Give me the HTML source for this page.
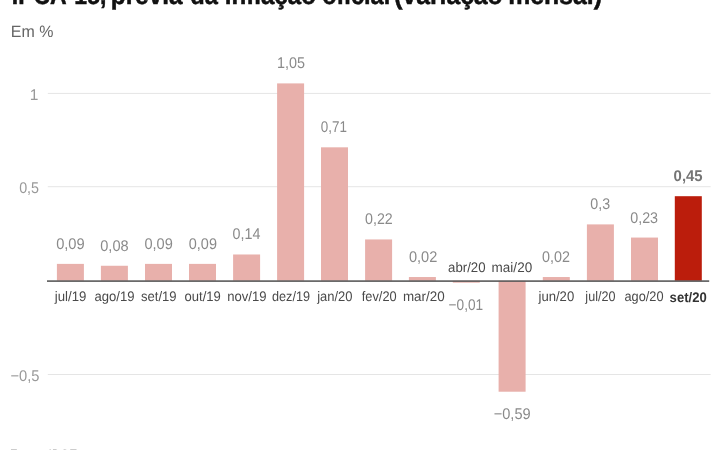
<!DOCTYPE html>
<html><head><meta charset="utf-8">
<style>
html,body{margin:0;padding:0;background:#fff;width:720px;height:450px;overflow:hidden}
svg{position:absolute;left:0;top:0;will-change:transform}
text{font-family:"Liberation Sans",Arial,sans-serif;text-rendering:geometricPrecision}
.title{font-size:26px;font-weight:bold;fill:#111;stroke:#111;stroke-width:0.5px}
.unit{font-size:16.5px;fill:#666}
.tk{font-size:15.5px;fill:#999}
.vl{font-size:15.5px;fill:#8a8a8a}
.ml{font-size:13.8px;fill:#4a4a4a}
.vl.hl{font-weight:bold;fill:#757575}
.ml.hl{font-weight:bold;fill:#333}
.src{font-size:12px;fill:#3a3a3a}
</style></head><body>
<svg width="720" height="450" viewBox="0 0 720 450">
<text class="title" x="11.76" y="3.8" textLength="94.60" lengthAdjust="spacingAndGlyphs">IPCA-15,</text>
<text class="title" x="110.78" y="3.8" textLength="71.77" lengthAdjust="spacingAndGlyphs">prévia</text>
<text class="title" x="190.26" y="3.8" textLength="27.59" lengthAdjust="spacingAndGlyphs">da</text>
<text class="title" x="224.69" y="3.8" textLength="91.30" lengthAdjust="spacingAndGlyphs">inflação</text>
<text class="title" x="322.16" y="3.8" textLength="68.03" lengthAdjust="spacingAndGlyphs">oficial</text>
<text class="title" x="394.24" y="3.8" textLength="108.47" lengthAdjust="spacingAndGlyphs">(variação</text>
<text class="title" x="508.15" y="3.8" textLength="93.75" lengthAdjust="spacingAndGlyphs">mensal)</text>
<text class="unit" x="10.84" y="37" textLength="42.61" lengthAdjust="spacingAndGlyphs">Em %</text>
<rect x="47.8" y="92.9" width="662.8" height="1" fill="#e5e5e5"/>
<rect x="47.8" y="186.2" width="662.8" height="1" fill="#e5e5e5"/>
<rect x="47.8" y="374.0" width="662.8" height="1" fill="#e5e5e5"/>
<rect x="56.90" y="263.88" width="27.0" height="16.92" fill="#e8b0ab"/>
<rect x="100.90" y="265.76" width="27.0" height="15.04" fill="#e8b0ab"/>
<rect x="145.00" y="263.88" width="27.0" height="16.92" fill="#e8b0ab"/>
<rect x="189.00" y="263.88" width="27.0" height="16.92" fill="#e8b0ab"/>
<rect x="233.10" y="254.48" width="27.0" height="26.32" fill="#e8b0ab"/>
<rect x="277.10" y="83.40" width="27.0" height="197.40" fill="#e8b0ab"/>
<rect x="321.00" y="147.32" width="27.0" height="133.48" fill="#e8b0ab"/>
<rect x="365.10" y="239.44" width="27.0" height="41.36" fill="#e8b0ab"/>
<rect x="408.90" y="277.04" width="27.0" height="3.76" fill="#e8b0ab"/>
<rect x="452.80" y="280.80" width="27.0" height="1.88" fill="#e8b0ab"/>
<rect x="498.60" y="280.80" width="27.0" height="110.92" fill="#e8b0ab"/>
<rect x="542.80" y="277.04" width="27.0" height="3.76" fill="#e8b0ab"/>
<rect x="586.90" y="224.40" width="27.0" height="56.40" fill="#e8b0ab"/>
<rect x="631.00" y="237.56" width="27.0" height="43.24" fill="#e8b0ab"/>
<rect x="674.80" y="196.20" width="27.0" height="84.60" fill="#bb1d0c"/>
<rect x="47" y="280.3" width="662.2" height="1.6" fill="#5a5a5a"/>
<text class="tk" x="38.30" y="99.8" text-anchor="end">1</text>
<text class="tk" x="19.15" y="192.8" textLength="19.93" lengthAdjust="spacingAndGlyphs">0,5</text>
<text class="tk" x="10.44" y="380.8" textLength="29.05" lengthAdjust="spacingAndGlyphs">−0,5</text>
<text class="vl" x="56.13" y="248.88" textLength="28.55" lengthAdjust="spacingAndGlyphs">0,09</text>
<text class="ml" x="54.78" y="300.5" textLength="31.57" lengthAdjust="spacingAndGlyphs">jul/19</text>
<text class="vl" x="100.24" y="250.76" textLength="28.35" lengthAdjust="spacingAndGlyphs">0,08</text>
<text class="ml" x="94.53" y="300.5" textLength="40.02" lengthAdjust="spacingAndGlyphs">ago/19</text>
<text class="vl" x="144.44" y="248.88" textLength="28.34" lengthAdjust="spacingAndGlyphs">0,09</text>
<text class="ml" x="140.97" y="300.5" textLength="35.58" lengthAdjust="spacingAndGlyphs">set/19</text>
<text class="vl" x="188.84" y="248.88" textLength="28.08" lengthAdjust="spacingAndGlyphs">0,09</text>
<text class="ml" x="184.53" y="300.5" textLength="36.27" lengthAdjust="spacingAndGlyphs">out/19</text>
<text class="vl" x="232.55" y="239.48" textLength="27.84" lengthAdjust="spacingAndGlyphs">0,14</text>
<text class="ml" x="227.25" y="300.5" textLength="39.30" lengthAdjust="spacingAndGlyphs">nov/19</text>
<text class="vl" x="276.98" y="68.4" textLength="28.00" lengthAdjust="spacingAndGlyphs">1,05</text>
<text class="ml" x="271.94" y="300.5" textLength="38.09" lengthAdjust="spacingAndGlyphs">dez/19</text>
<text class="vl" x="320.73" y="132.32" textLength="26.14" lengthAdjust="spacingAndGlyphs">0,71</text>
<text class="ml" x="317.13" y="300.5" textLength="35.32" lengthAdjust="spacingAndGlyphs">jan/20</text>
<text class="vl" x="365.05" y="224.44" textLength="27.71" lengthAdjust="spacingAndGlyphs">0,22</text>
<text class="ml" x="361.81" y="300.5" textLength="34.88" lengthAdjust="spacingAndGlyphs">fev/20</text>
<text class="vl" x="408.94" y="262.04" textLength="28.34" lengthAdjust="spacingAndGlyphs">0,02</text>
<text class="ml" x="402.93" y="300.5" textLength="41.74" lengthAdjust="spacingAndGlyphs">mar/20</text>
<text class="vl" x="448.58" y="309.68" textLength="34.55" lengthAdjust="spacingAndGlyphs">−0,01</text>
<text class="ml" x="448.12" y="271.7" textLength="37.43" lengthAdjust="spacingAndGlyphs">abr/20</text>
<text class="vl" x="493.74" y="418.72" textLength="36.94" lengthAdjust="spacingAndGlyphs">−0,59</text>
<text class="ml" x="491.62" y="271.7" textLength="40.55" lengthAdjust="spacingAndGlyphs">mai/20</text>
<text class="vl" x="541.94" y="262.04" textLength="27.92" lengthAdjust="spacingAndGlyphs">0,02</text>
<text class="ml" x="538.48" y="300.5" textLength="35.72" lengthAdjust="spacingAndGlyphs">jun/20</text>
<text class="vl" x="590.25" y="209.4" textLength="19.82" lengthAdjust="spacingAndGlyphs">0,3</text>
<text class="ml" x="585.36" y="300.5" textLength="30.07" lengthAdjust="spacingAndGlyphs">jul/20</text>
<text class="vl" x="630.25" y="222.56" textLength="27.83" lengthAdjust="spacingAndGlyphs">0,23</text>
<text class="ml" x="624.54" y="300.5" textLength="39.00" lengthAdjust="spacingAndGlyphs">ago/20</text>
<text class="vl hl" x="673.62" y="181.2" textLength="28.98" lengthAdjust="spacingAndGlyphs">0,45</text>
<text class="ml hl" x="669.62" y="302.2" textLength="37.08" lengthAdjust="spacingAndGlyphs">set/20</text>
<text class="src" x="10" y="457.8">Fonte:</text><text class="src" x="48.6" y="457.8">IBGE</text>
</svg>
</body></html>
